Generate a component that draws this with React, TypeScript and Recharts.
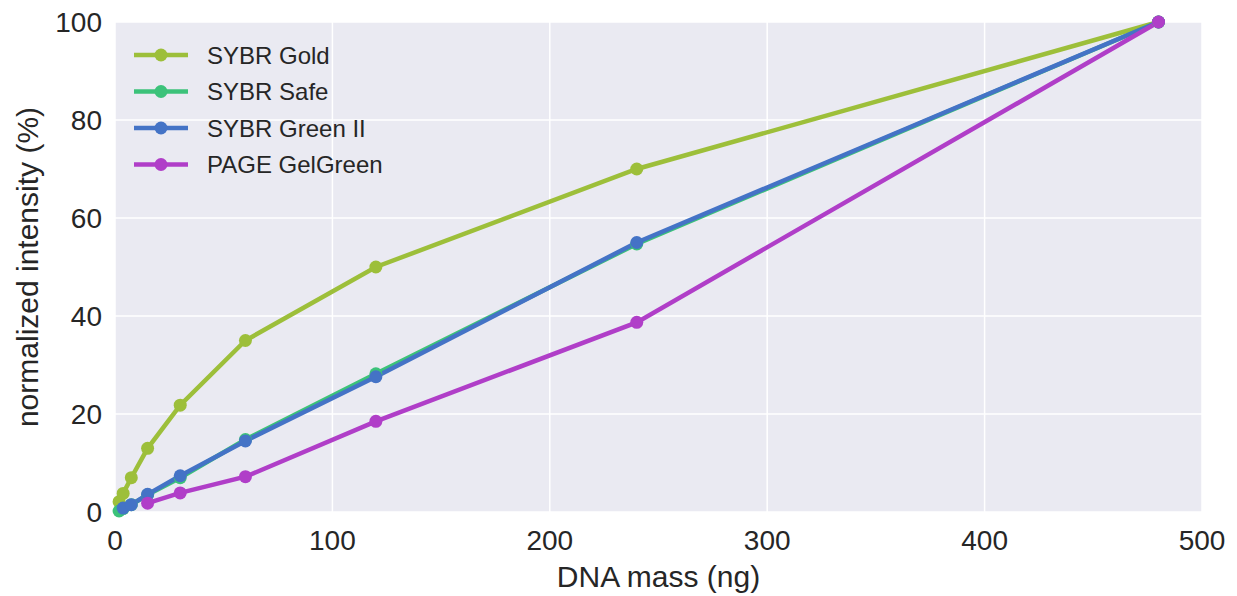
import React from "react"
import { LineChart, Line, XAxis, YAxis, CartesianGrid } from "recharts"

// DNA mass (ng) per dilution step
const goldMass = [1.875, 3.75, 7.5, 15, 30, 60, 120, 240, 480]
const goldIntensity = [2.1, 3.8, 7.0, 13.0, 21.8, 35.0, 50.0, 70.0, 100]

const safeMass = [1.875, 3.75, 7.5, 15, 30, 60, 120, 240, 480]
const safeIntensity = [0.2, 0.7, 1.5, 3.5, 7.0, 14.8, 28.2, 54.7, 100]

const greenMass = [3.75, 7.5, 15, 30, 60, 120, 240, 480]
const greenIntensity = [0.8, 1.5, 3.6, 7.4, 14.5, 27.6, 55.0, 100]

const pageMass = [15, 30, 60, 120, 240, 480]
const pageIntensity = [1.8, 3.9, 7.2, 18.5, 38.7, 100]

const xTicks = [0, 100, 200, 300, 400, 500]
const yTicks = [0, 20, 40, 60, 80, 100]

const toPoints = (xs: number[], ys: number[]) => xs.map((x, i) => ({ x, y: ys[i] }))

const series = [
  { name: "SYBR Gold", color: "#9dbf3a", data: toPoints(goldMass, goldIntensity) },
  { name: "SYBR Safe", color: "#3cc27a", data: toPoints(safeMass, safeIntensity) },
  { name: "SYBR Green II", color: "#4473c6", data: toPoints(greenMass, greenIntensity) },
  { name: "PAGE GelGreen", color: "#b03ec8", data: toPoints(pageMass, pageIntensity) },
]

const font = "'Liberation Sans', Arial, sans-serif"
const textColor = "#262626"

// legend drawn over the top-left of the plot, like matplotlib's loc="upper left"
function LegendOverlay() {
  return (
    <svg
      width={460}
      height={200}
      style={{ position: "absolute", left: 0, top: 0, pointerEvents: "none", overflow: "visible" }}
    >
      {series.map((s, i) => {
        const cy = 55 + i * 36.5
        return (
          <g key={s.name}>
            <line x1={134} x2={188} y1={cy} y2={cy} stroke={s.color} strokeWidth={4.5} />
            <circle cx={161} cy={cy} r={6.5} fill={s.color} />
            <text x={207} y={cy + 8.5} fontSize={24} fontFamily={font} fill={textColor}>
              {s.name}
            </text>
          </g>
        )
      })}
    </svg>
  )
}

export default function App() {
  return (
    <div style={{ position: "absolute", left: 0, top: 0, width: 1237, height: 596, fontFamily: font }}>
      <LineChart width={1237} height={596} margin={{ top: 22, right: 35, left: 0, bottom: 0 }}>
        <CartesianGrid fill="#eaeaf2" stroke="#ffffff" strokeWidth={1.5} />
        <XAxis
          type="number"
          dataKey="x"
          domain={[0, 500]}
          ticks={xTicks}
          height={84}
          tickLine={false}
          axisLine={false}
          tickSize={0}
          tickMargin={18}
          tick={{ fill: textColor, fontSize: 28, fontFamily: font }}
          label={{ value: "DNA mass (ng)", position: "insideBottom", offset: 9, fill: textColor, fontSize: 30, fontFamily: font }}
        />
        <YAxis
          type="number"
          domain={[0, 100]}
          ticks={yTicks}
          width={115}
          tickLine={false}
          axisLine={false}
          tickSize={0}
          tickMargin={13}
          tick={{ fill: textColor, fontSize: 28, fontFamily: font }}
          label={{
            value: "normalized intensity (%)",
            angle: -90,
            position: "insideLeft",
            offset: 27,
            fill: textColor,
            fontSize: 30,
            fontFamily: font,
            style: { textAnchor: "middle" },
          }}
        />
        {series.map((s) => (
          <Line
            key={s.name}
            data={s.data}
            dataKey="y"
            name={s.name}
            stroke={s.color}
            strokeWidth={4.5}
            dot={{ r: 6.5, fill: s.color, stroke: "none" }}
            activeDot={false}
            isAnimationActive={false}
          />
        ))}
      </LineChart>
      <LegendOverlay />
    </div>
  )
}
